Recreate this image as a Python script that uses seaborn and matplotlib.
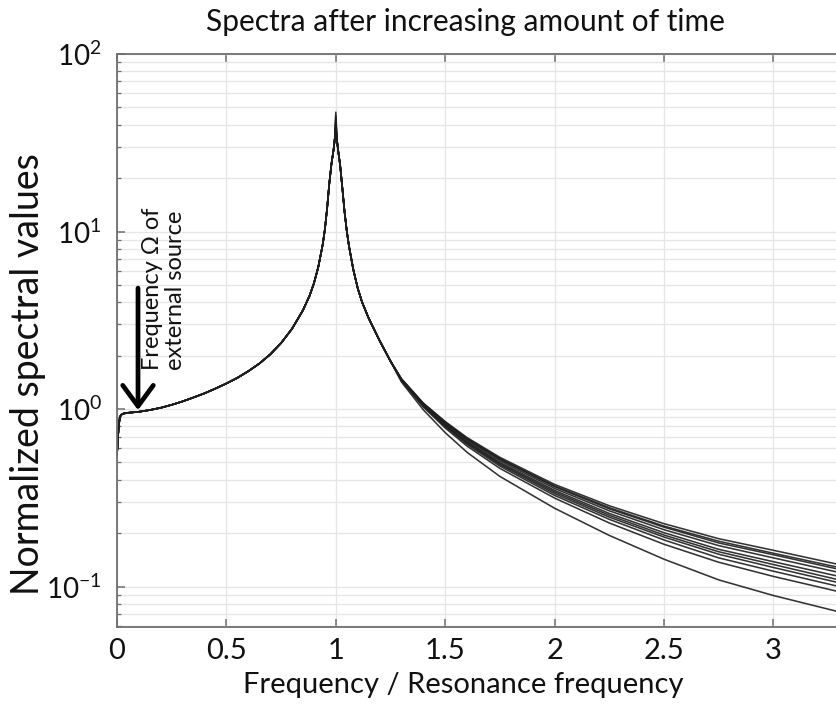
import numpy as np
import pandas as pd
import matplotlib
matplotlib.use("Agg")
import matplotlib.pyplot as plt
import seaborn as sns
from matplotlib.ticker import FixedLocator, LogLocator, NullFormatter

# ---------------- data ----------------
x_rise = [0.0, 0.004, 0.008, 0.012, 0.016, 0.02, 0.03, 0.05, 0.1, 0.15, 0.2, 0.25,
          0.3, 0.35, 0.4, 0.45, 0.5, 0.55, 0.6, 0.65, 0.7, 0.75, 0.8, 0.85, 0.88,
          0.9, 0.92, 0.94, 0.95, 0.96, 0.97, 0.98, 0.99, 0.995]
y_rise = [0.55, 0.68, 0.8, 0.88, 0.915, 0.93, 0.943, 0.952, 0.965, 0.987, 1.016, 1.056,
          1.104, 1.162, 1.226, 1.304, 1.393, 1.498, 1.633, 1.801, 2.029, 2.354, 2.833, 3.604, 4.344,
          5.105, 6.315, 8.42, 10.26, 13.4, 18.5, 24, 29, 33]

x_peak = 1.0
peaks = [47, 45, 43, 41, 40, 39, 38, 37, 36, 35]

x_fall = [1.005, 1.01, 1.02, 1.03, 1.04, 1.05, 1.06, 1.08, 1.1, 1.12, 1.15, 1.2, 1.25]
y_fall = [33, 29, 23.5, 17.5, 12.9, 10.1, 8.3, 6.1, 4.8, 4.0, 3.25, 2.43, 1.86]

x_tail = [1.3, 1.4, 1.5, 1.6, 1.75, 2.0, 2.25, 2.5, 2.75, 3.0, 3.3]
tail_1 = [1.48, 1.08, 0.85, 0.69, 0.534, 0.376, 0.285, 0.226, 0.186, 0.160, 0.133]
tail_2 = [1.476, 1.074, 0.842, 0.682, 0.526, 0.369, 0.278, 0.219, 0.180, 0.154, 0.128]
tail_3 = [1.474, 1.071, 0.838, 0.677, 0.521, 0.365, 0.274, 0.216, 0.176, 0.151, 0.125]
tail_4 = [1.470, 1.064, 0.829, 0.668, 0.512, 0.357, 0.267, 0.209, 0.170, 0.145, 0.120]
tail_5 = [1.464, 1.056, 0.819, 0.657, 0.501, 0.348, 0.258, 0.201, 0.162, 0.138, 0.114]
tail_6 = [1.460, 1.050, 0.812, 0.649, 0.493, 0.341, 0.252, 0.195, 0.157, 0.133, 0.109]
tail_7 = [1.457, 1.045, 0.805, 0.642, 0.486, 0.334, 0.246, 0.190, 0.152, 0.128, 0.105]
tail_8 = [1.452, 1.038, 0.796, 0.632, 0.477, 0.326, 0.239, 0.183, 0.145, 0.122, 0.100]
tail_9 = [1.445, 1.027, 0.782, 0.618, 0.463, 0.315, 0.228, 0.173, 0.137, 0.114, 0.0935]
tail_10 = [1.42, 0.99, 0.736, 0.570, 0.417, 0.276, 0.194, 0.1425, 0.109, 0.089, 0.072]
tails = [tail_1, tail_2, tail_3, tail_4, tail_5, tail_6, tail_7, tail_8, tail_9, tail_10]

x_ticks = [0, 0.5, 1, 1.5, 2, 2.5, 3]
x_tick_labels = ["0", "0.5", "1", "1.5", "2", "2.5", "3"]

title = "Spectra after increasing amount of time"
xlabel = "Frequency / Resonance frequency"
ylabel = "Normalized spectral values"
annot = "Frequency Ω of\nexternal source"

# ---------------- long-form table ----------------
rows = []
for i, (pk, tl) in enumerate(zip(peaks, tails)):
    xs = x_rise + [x_peak] + x_fall + x_tail
    ys = y_rise + [pk] + y_fall + tl
    for xv, yv in zip(xs, ys):
        rows.append({"freq": xv, "value": yv, "curve": i})
df = pd.DataFrame(rows)

# ---------------- style ----------------
sns.set_theme(style="white")
fam = ["Lato", "DejaVu Sans"]
plt.rcParams["font.family"] = fam
plt.rcParams["mathtext.fontset"] = "custom"
plt.rcParams["mathtext.rm"] = "Lato"
plt.rcParams["mathtext.it"] = "Lato:italic"
plt.rcParams["mathtext.bf"] = "Lato:bold"

W, H = 836, 704
fig = plt.figure(figsize=(W / 100, H / 100), dpi=100)
left, right, top, bottom = 117, 836, 54, 627
ax = fig.add_axes([left / W, 1 - bottom / H, (right - left) / W, (bottom - top) / H])

sns.lineplot(data=df, x="freq", y="value", units="curve", estimator=None,
             color="#1e1e1e", linewidth=1.15, alpha=0.9, ax=ax, legend=False, sort=False)

ax.set_yscale("log")
ax.set_xlim(0, 3.286)
ax.set_ylim(10 ** -1.228, 100)

ax.xaxis.set_major_locator(FixedLocator(x_ticks))
ax.set_xticklabels(x_tick_labels)
ax.yaxis.set_major_locator(LogLocator(base=10, numticks=10))
ax.yaxis.set_minor_locator(LogLocator(base=10, subs=np.arange(2, 10), numticks=20))
ax.yaxis.set_minor_formatter(NullFormatter())

ax.grid(True, which="major", axis="both", color="#e6e6e6", linewidth=1.0)
ax.grid(True, which="minor", axis="y", color="#e6e6e6", linewidth=1.0)
ax.set_axisbelow(True)

for s in ["left", "bottom", "top"]:
    ax.spines[s].set_visible(True)
    ax.spines[s].set_color("#6f6f6f")
    ax.spines[s].set_linewidth(1.3)
ax.spines["right"].set_visible(False)

ax.tick_params(axis="both", which="major", direction="in", length=6, width=1.1,
               color="#6f6f6f", labelsize=21, labelcolor="#111111", pad=11,
               top=True, bottom=True, left=True, right=False)
ax.tick_params(axis="y", which="major", labelsize=20)
ax.tick_params(axis="y", which="minor", direction="in", length=3, width=0.9,
               color="#6f6f6f", left=True, right=False)
ax.tick_params(axis="x", which="major", pad=8)

ax.set_xlabel(xlabel, fontsize=21, color="#111111")
ax.set_ylabel(ylabel, fontsize=27, color="#111111")
ax.xaxis.set_label_coords(0.481, -0.078)
ax.yaxis.set_label_coords(-0.099, 0.4415)
ax.set_title(title, fontsize=21.5, color="#111111", x=0.484, y=1.040, pad=0)

ax.annotate("", xy=(0.096, 0.985), xytext=(0.096, 4.8),
            arrowprops=dict(arrowstyle="->,head_length=0.75,head_width=0.55",
                            mutation_scale=20, lw=3.4, color="black",
                            shrinkA=0, shrinkB=0))
ax.text(0.215, 1.66, annot, rotation=90, ha="center", va="bottom",
        multialignment="left", fontsize=17, color="#111111", family=fam,
        linespacing=1.1)

fig.savefig("out.png", dpi=100)
